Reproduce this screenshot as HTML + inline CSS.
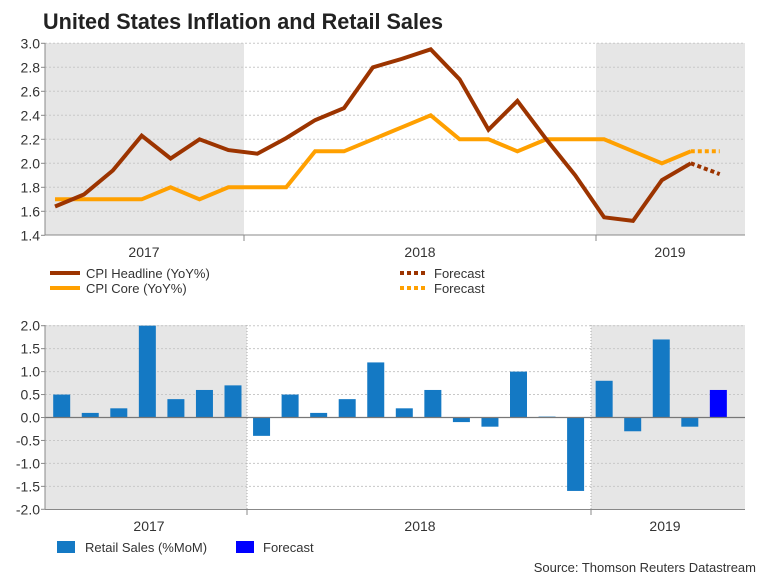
<!DOCTYPE html>
<html><head><meta charset="utf-8"><style>
body{margin:0;background:#fff;}
svg{display:block;font-family:"Liberation Sans",Arial,sans-serif;}
</style></head><body>
<svg id="c" width="768" height="576" viewBox="0 0 768 576">
<text x="43" y="29" font-size="22" font-weight="bold" fill="#222" textLength="400" lengthAdjust="spacingAndGlyphs">United States Inflation and Retail Sales</text>
<g id="topg"></g>
<g id="botg"></g>
<g>
<line x1="50" y1="273" x2="80" y2="273" stroke="#9c3400" stroke-width="4"/>
<text x="86" y="278" font-size="13" fill="#333">CPI Headline (YoY%)</text>
<line x1="50" y1="288" x2="80" y2="288" stroke="#ffa000" stroke-width="4"/>
<text x="86" y="293" font-size="13" fill="#333">CPI Core (YoY%)</text>
<line x1="400" y1="273" x2="428" y2="273" stroke="#9c3400" stroke-width="4" stroke-dasharray="4,3"/>
<text x="434" y="278" font-size="13" fill="#333">Forecast</text>
<line x1="400" y1="288" x2="428" y2="288" stroke="#ffa000" stroke-width="4" stroke-dasharray="4,3"/>
<text x="434" y="293" font-size="13" fill="#333">Forecast</text>
</g>
<g>
<rect x="57" y="541" width="18" height="12" fill="#1479c4"/>
<text x="85" y="552" font-size="13" fill="#333">Retail Sales (%MoM)</text>
<rect x="236" y="541" width="18" height="12" fill="#0000ff"/>
<text x="263" y="552" font-size="13" fill="#333">Forecast</text>
</g>
<text x="756" y="572" font-size="13" fill="#333" text-anchor="end">Source: Thomson Reuters Datastream</text>
</svg>
<script>
const headline = [1.64,1.74,1.94,2.23,2.04,2.2,2.11,2.08,2.21,2.36,2.46,2.8,2.87,2.95,2.7,2.28,2.52,2.2,1.9,1.55,1.52,1.86,2.0];
const headlineForecast = [2.0,1.91];
const core = [1.7,1.7,1.7,1.7,1.8,1.7,1.8,1.8,1.8,2.1,2.1,2.2,2.3,2.4,2.2,2.2,2.1,2.2,2.2,2.2,2.1,2.0,2.1];
const coreForecast = [2.1,2.1];
const topTicks = ["1.4","1.6","1.8","2.0","2.2","2.4","2.6","2.8","3.0"];
const retail = [0.5,0.1,0.2,2.0,0.4,0.6,0.7,-0.4,0.5,0.1,0.4,1.2,0.2,0.6,-0.1,-0.2,1.0,0.02,-1.6,0.8,-0.3,1.7,-0.2];
const retailForecast = [0.6];
const botTicks = ["-2.0","-1.5","-1.0","-0.5","0.0","0.5","1.0","1.5","2.0"];
const years = ["2017","2018","2019"];

const NS="http://www.w3.org/2000/svg";
function mk(p,t,a){const e=document.createElementNS(NS,t);for(const k in a)e.setAttribute(k,a[k]);p.appendChild(e);return e;}
const L=45,R=745;
const topG=document.getElementById('topg');
const ty=v=>43.3+(3.0-v)*120;
const tx=i=>55+i*28.9;
let g=mk(topG,'rect',{x:L,y:43,width:199,height:192,fill:'#e6e6e6'});


g=mk(topG,'rect',{x:596,y:43,width:149,height:192,fill:'#e6e6e6'});


topTicks.forEach(t=>{const v=parseFloat(t),y=ty(v);
 if(v>1.4){const gl=mk(topG,'line',{x1:L,x2:R,y1:y,y2:y,stroke:'#c8c8c8','stroke-dasharray':'2,2'});
 
 }
 mk(topG,'line',{x1:L-4,x2:L,y1:y,y2:y,stroke:'#888'});
 const tt=mk(topG,'text',{x:L-5,y:y+5,'font-size':14,fill:'#333','text-anchor':'end'});tt.textContent=t;
 
 
});
mk(topG,'line',{x1:L,x2:L,y1:43,y2:235,stroke:'#888'});
mk(topG,'line',{x1:L,x2:R,y1:235,y2:235,stroke:'#888'});
[244,596].forEach(x=>mk(topG,'line',{x1:x,x2:x,y1:235,y2:241,stroke:'#888'}));
[[144,years[0]],[420,years[1]],[670,years[2]]].forEach(([x,t])=>{const e=mk(topG,'text',{x:x,y:257,'font-size':14,fill:'#333','text-anchor':'middle'});e.textContent=t;
 
 });
function line(p,vals,off,col,dash,name){const pts=vals.map((v,i)=>tx(i+off).toFixed(1)+','+ty(v).toFixed(1)).join(' ');
 const e=mk(p,'polyline',{points:pts,fill:'none',stroke:col,'stroke-width':4,'stroke-linejoin':'miter'});
 if(dash)e.setAttribute('stroke-dasharray','4,3');
 
 }
line(topG,core,0,'#ffa000',false,'cpi-core-line');
line(topG,coreForecast,core.length-1,'#ffa000',true,'cpi-core-forecast-line');
line(topG,headline,0,'#9c3400',false,'cpi-headline-line');
line(topG,headlineForecast,headline.length-1,'#9c3400',true,'cpi-headline-forecast-line');

const botG=document.getElementById('botg');
const by=v=>417.5-v*45.9;
const bx=i=>61.7+i*28.55;
g=mk(botG,'rect',{x:L,y:325,width:202,height:184,fill:'#e6e6e6'});


g=mk(botG,'rect',{x:591,y:325,width:154,height:184,fill:'#e6e6e6'});


botTicks.forEach(t=>{const v=parseFloat(t),y=by(v);
 if(v>-2){const gl=mk(botG,'line',{x1:L,x2:R,y1:y,y2:y,stroke:'#c8c8c8','stroke-dasharray':'2,2'});
 
 }
 mk(botG,'line',{x1:L-4,x2:L,y1:y,y2:y,stroke:'#888'});
 const tt=mk(botG,'text',{x:L-5,y:y+5,'font-size':14,fill:'#333','text-anchor':'end'});tt.textContent=t;
 
 
});
[247,591].forEach(x=>mk(botG,'line',{x1:x,x2:x,y1:325,y2:509,stroke:'#aaa','stroke-dasharray':'1,2'}));
function bar(v,i,col,name){const y0=by(0),y1=by(v);
 const e=mk(botG,'rect',{x:bx(i)-8.5,y:Math.min(y0,y1),width:17,height:Math.max(Math.abs(y1-y0),1),fill:col});
 
 }
retail.forEach((v,i)=>bar(v,i,'#1479c4','retail-bar'));
retailForecast.forEach((v,i)=>bar(v,retail.length+i,'#0000ff','retail-forecast-bar'));
mk(botG,'line',{x1:L,x2:R,y1:by(0),y2:by(0),stroke:'#777','stroke-width':1.2});
mk(botG,'line',{x1:L,x2:L,y1:325,y2:509,stroke:'#888'});
mk(botG,'line',{x1:L,x2:R,y1:509.5,y2:509.5,stroke:'#888'});
[247,591].forEach(x=>mk(botG,'line',{x1:x,x2:x,y1:509,y2:515,stroke:'#888'}));
[[149,years[0]],[420,years[1]],[665,years[2]]].forEach(([x,t])=>{const e=mk(botG,'text',{x:x,y:531,'font-size':14,fill:'#333','text-anchor':'middle'});e.textContent=t;
 
 });
</script>
</body></html>
